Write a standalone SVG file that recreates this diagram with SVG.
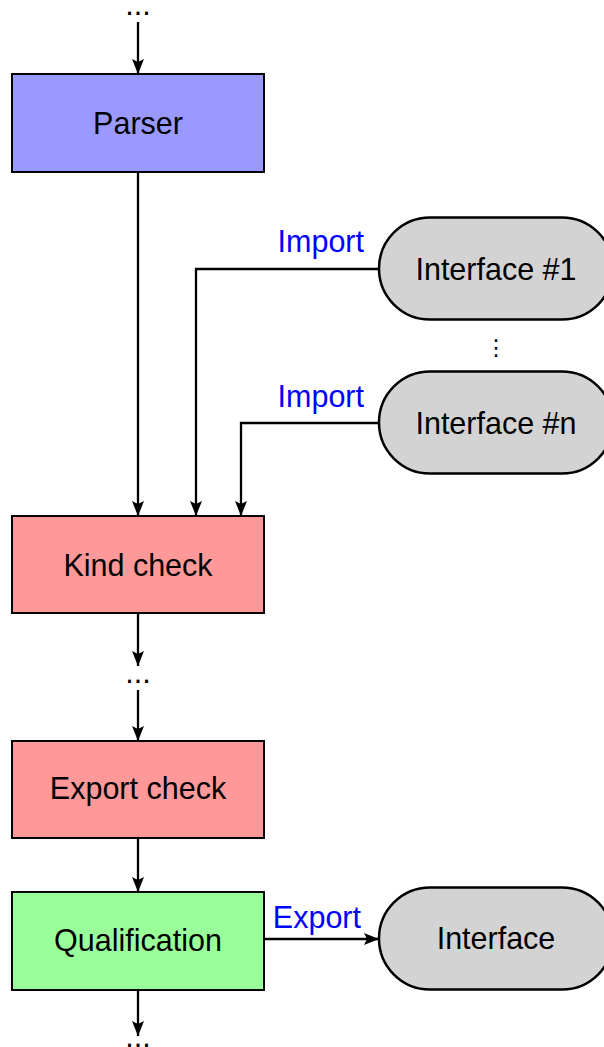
<svg xmlns="http://www.w3.org/2000/svg" width="604" height="1047" viewBox="0 0 604 1047">
  <style>
    .box { stroke: #000; stroke-width: 2; }
    .pill { fill: #d3d3d3; stroke: #000; stroke-width: 2.5; }
    .lbl { font-family: "Liberation Sans", Arial, sans-serif; font-size: 30.5px; fill: #000; text-anchor: middle; }
    .edge { font-family: "Liberation Sans", Arial, sans-serif; font-size: 30.5px; fill: #0000ff; }
    .wire { fill: none; stroke: #000; stroke-width: 2.3; }
  </style>
  <defs>
    <marker id="arrow" markerUnits="userSpaceOnUse" markerWidth="15" markerHeight="12" refX="15" refY="6" orient="auto">
      <path d="M0,0 L15,6 L0,12 L3,6 z" fill="#000"/>
    </marker>
  </defs>

  <g id="connectors">
    <path class="wire" d="M138,22 V74" marker-end="url(#arrow)"/>
    <path class="wire" d="M138,172 V516" marker-end="url(#arrow)"/>
    <path class="wire" d="M379,269 H196 V516" marker-end="url(#arrow)"/>
    <path class="wire" d="M379,423 H241 V516" marker-end="url(#arrow)"/>
    <path class="wire" d="M138,613 V666" marker-end="url(#arrow)"/>
    <path class="wire" d="M138,690 V741" marker-end="url(#arrow)"/>
    <path class="wire" d="M138,838 V892" marker-end="url(#arrow)"/>
    <path class="wire" d="M264,939 H379" marker-end="url(#arrow)"/>
    <path class="wire" d="M138,990 V1036" marker-end="url(#arrow)"/>
    <text class="edge" x="364" y="252" text-anchor="end">Import</text>
    <text class="edge" x="364" y="407" text-anchor="end">Import</text>
    <text class="edge" x="361" y="928" text-anchor="end">Export</text>
  </g>

  <g id="ellipses">
    <text class="lbl" x="138" y="15">...</text>
    <text class="lbl" x="138" y="683">...</text>
    <text class="lbl" x="138" y="1047">...</text>
    <text x="496" y="355" font-family="DejaVu Sans, sans-serif" font-size="22" text-anchor="middle" fill="#000">⋮</text>
  </g>

  <g id="parser">
    <rect class="box" x="12" y="74" width="252" height="98" fill="#9999ff"/>
    <text class="lbl" x="138" y="134">Parser</text>
  </g>

  <g id="interface-1">
    <rect class="pill" x="379" y="217.5" width="234" height="102" rx="51" ry="51"/>
    <text class="lbl" x="496" y="280">Interface #1</text>
  </g>

  <g id="interface-n">
    <rect class="pill" x="379" y="371.5" width="234" height="102" rx="51" ry="51"/>
    <text class="lbl" x="496" y="434">Interface #n</text>
  </g>

  <g id="kind-check">
    <rect class="box" x="12" y="516" width="252" height="97" fill="#ff9999"/>
    <text class="lbl" x="138" y="576">Kind check</text>
  </g>

  <g id="export-check">
    <rect class="box" x="12" y="741" width="252" height="97" fill="#ff9999"/>
    <text class="lbl" x="138" y="799">Export check</text>
  </g>

  <g id="qualification">
    <rect class="box" x="12" y="892" width="252" height="98" fill="#99ff99"/>
    <text class="lbl" x="138" y="951">Qualification</text>
  </g>

  <g id="interface-out">
    <rect class="pill" x="379" y="887.5" width="234" height="102" rx="51" ry="51"/>
    <text class="lbl" x="496" y="949">Interface</text>
  </g>
</svg>
